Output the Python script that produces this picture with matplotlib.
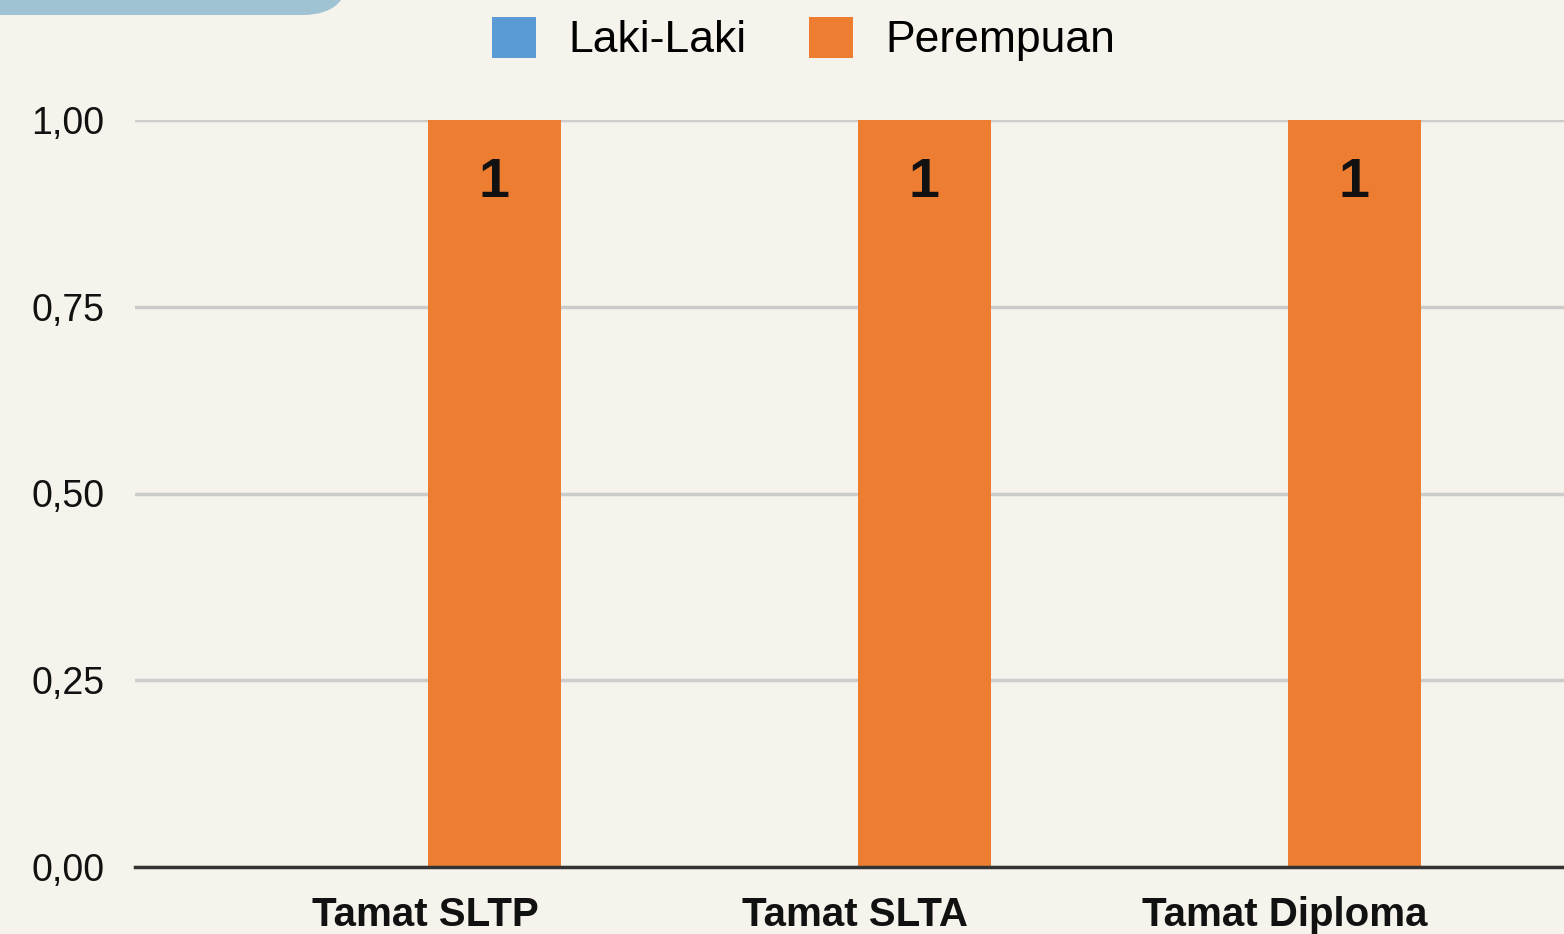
import matplotlib.pyplot as plt
from matplotlib.patches import FancyBboxPatch, Patch
from matplotlib.ticker import FuncFormatter
import numpy as np

categories = ["Tamat SLTP", "Tamat SLTA", "Tamat Diploma"]
laki_laki = [0, 0, 0]
perempuan = [1, 1, 1]
series_names = ["Laki-Laki", "Perempuan"]

bg = "#F5F3EC"
blue = "#5B9BD5"
orange = "#ED7D31"

plt.rcParams['font.family'] = ['Liberation Sans', 'DejaVu Sans']

fig = plt.figure(figsize=(15.64, 9.34), dpi=100, facecolor=bg)
ax = fig.add_axes([135 / 1564, 67 / 934, 1 - 135 / 1564, (867 - 120) / 934])
ax.set_facecolor(bg)

# decorative tab in the top-left corner
tab = FancyBboxPatch((-60 / 1564, 1 - 15 / 934), 410 / 1564, 80 / 934,
                     boxstyle="round,pad=0,rounding_size=0.03",
                     transform=fig.transFigure, facecolor="#9FC3D3",
                     edgecolor="none", mutation_aspect=1564 / 934)
fig.patches.append(tab)

x = np.arange(len(categories))
w = 133 / 430
off = 69 / 430
ax.bar(x - off, laki_laki, w, color=blue, zorder=3)
bars = ax.bar(x + off, perempuan, w, color=orange, zorder=3)

for b, v in zip(bars, perempuan):
    ax.text(b.get_x() + b.get_width() / 2, v - 0.05, str(v), ha="center", va="top",
            fontsize=40, fontweight="bold", color="#111111", zorder=4)

ax.set_xlim(-290 / 430, (1564 - 425) / 430)
ax.set_ylim(0, 1.0)
ax.set_yticks([0, 0.25, 0.5, 0.75, 1.0])
ax.yaxis.set_major_formatter(FuncFormatter(lambda v, p: f"{v:.2f}".replace(".", ",")))
ax.set_xticks(x)
ax.set_xticklabels(categories, fontsize=29, fontweight="bold", color="#111111")
ax.tick_params(axis="y", length=0, pad=22, labelsize=27, labelcolor="#111111")
ax.tick_params(axis="x", length=0, pad=21)
for t in ax.get_yticklabels():
    t.set_y(t.get_position()[1])

ax.grid(axis="y", color="#CCCCCC", linewidth=2.5, zorder=0)
for s in ["top", "right", "left"]:
    ax.spines[s].set_visible(False)
ax.spines["bottom"].set_color("#333333")
ax.spines["bottom"].set_linewidth(2.5)
ax.spines["bottom"].set_zorder(5)

handles = [Patch(facecolor=blue), Patch(facecolor=orange)]
fig.legend(handles, series_names, loc="center", bbox_to_anchor=(0.5138, 1 - 39 / 934),
           ncol=2, frameon=False, fontsize=32, handlelength=1.0, handleheight=1.05,
           handletextpad=0.72, columnspacing=1.4)

fig.savefig("out.png", dpi=100, facecolor=bg)
plt.close(fig)
